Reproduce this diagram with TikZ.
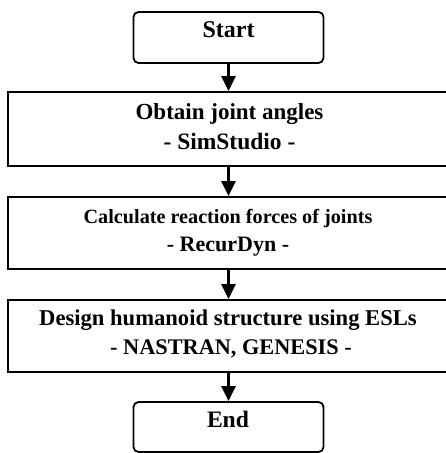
\documentclass[tikz,border=0pt]{standalone}
\usepackage{fontspec}
\setmainfont{Liberation Serif}
\usetikzlibrary{arrows.meta}
\tikzset{
  x=1pt, y=1pt,
  term/.style={draw, line width=1.8pt, rounded corners=5pt, minimum width=190pt, inner sep=0pt},
  procbox/.style={draw, line width=1.8pt, minimum width=439pt, inner sep=0pt},
  txt/.style={anchor=base, inner sep=0pt, font=\bfseries},
  arr/.style={line width=2.4pt, -{Triangle[length=15pt,width=14pt]}}
}
\begin{document}
\begin{tikzpicture}
\useasboundingbox (0,0) rectangle (446,453);
\node[term, minimum height=51pt] (start) at (228.5,415.5) {};
\node[procbox, minimum height=74pt] (b1) at (227.5,324) {};
\node[procbox, minimum height=72pt] (b2) at (227.5,220) {};
\node[procbox, minimum height=72pt] (b3) at (227.5,117) {};
\node[term, minimum height=50pt] (end) at (228.5,26) {};

\node[txt] (tstart) at (228.5,415.3) {\fontsize{24}{24}\selectfont Start};
\node[txt] (t1a) at (229.5,333) {\fontsize{23}{23}\selectfont Obtain joint angles};
\node[txt] (t1b) at (229.5,303) {\fontsize{23.5}{23.5}\selectfont - SimStudio -};
\node[txt] (t2a) at (228,229.7) {\fontsize{20.2}{20.2}\selectfont Calculate reaction forces of joints};
\node[txt] (t2b) at (228,201.3) {\fontsize{22}{22}\selectfont - RecurDyn -};
\node[txt] (t3a) at (228,127) {\fontsize{22.6}{22.6}\selectfont Design humanoid structure using ESLs};
\node[txt] (t3b) at (231,98) {\fontsize{22.3}{22.3}\selectfont - NASTRAN, GENESIS -};
\node[txt] (tend) at (228,25) {\fontsize{23.6}{23.6}\selectfont End};

\draw[arr] (start.south) -- (start.south |- b1.north);
\draw[arr] (b1.south -| start.south) -- (b2.north -| start.south);
\draw[arr] (b2.south -| start.south) -- (b3.north -| start.south);
\draw[arr] (b3.south -| start.south) -- (end.north);
\end{tikzpicture}
\end{document}
